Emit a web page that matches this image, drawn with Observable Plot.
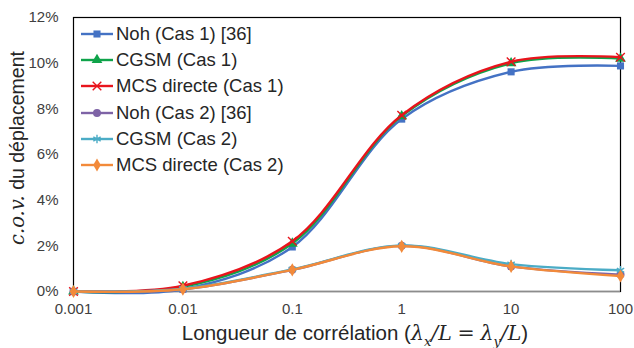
<!DOCTYPE html>
<html>
<head>
<meta charset="utf-8">
<script src="https://cdn.jsdelivr.net/npm/d3@7"></script>
<script src="https://cdn.jsdelivr.net/npm/@observablehq/plot@0.6"></script>
<style>
  html, body { margin: 0; padding: 0; background: #fff; }
  #wrap { position: relative; width: 634px; height: 348px; font-family: "Liberation Sans", Arial, sans-serif; }
  #legend { position: absolute; left: 80px; top: 20.5px; }
  .li { display: flex; align-items: center; height: 26.3px; font-size: 18.5px; color: #262626; white-space: nowrap; }
  .li svg { margin-right: 2px; }
  #ytitle { position: absolute; left: 17px; top: 148px; transform: translate(-50%, -50%) rotate(-90deg); font-size: 19.5px; color: #262626; white-space: nowrap; }
  #xtitle { position: absolute; left: 355px; top: 335px; transform: translate(-50%, -50%); font-size: 20.5px; color: #262626; white-space: nowrap; }
  .m { font-family: "DejaVu Serif", "Liberation Serif", serif; font-style: italic; }
  .mr { font-family: "DejaVu Serif", "Liberation Serif", serif; }
</style>
</head>
<body>
<div id="wrap"></div>
<script>
// Data (c.o.v. in %)
const lengths = [0.001, 0.01, 0.1, 1, 10, 100];
const nohCas1  = [0, 0.10, 1.95, 7.55, 9.62, 9.88];
const cgsmCas1 = [0, 0.20, 2.10, 7.68, 10.00, 10.20];
const mcsCas1  = [0, 0.25, 2.20, 7.72, 10.06, 10.26];
const nohCas2  = [0, 0.10, 0.95, 2.00, 1.10, 0.74];
const cgsmCas2 = [0, 0.12, 0.97, 2.02, 1.20, 0.93];
const mcsCas2  = [0, 0.10, 0.95, 1.98, 1.10, 0.68];
const xTicks = [0.001, 0.01, 0.1, 1, 10, 100];
const xTickLabels = ["0.001", "0.01", "0.1", "1", "10", "100"];
const yTicks = [0, 2, 4, 6, 8, 10, 12];

const seriesNames = ["Noh (Cas 1) [36]", "CGSM (Cas 1)", "MCS directe (Cas 1)", "Noh (Cas 2) [36]", "CGSM (Cas 2)", "MCS directe (Cas 2)"];
const seriesValues = [nohCas1, cgsmCas1, mcsCas1, nohCas2, cgsmCas2, mcsCas2];
const seriesColors = ["#4472C4", "#0FA34A", "#E8141C", "#7E63A6", "#4BACC6", "#F28A3A"];
const seriesSymbols = ["square", "triangle", "times", "circle", "asterisk", "diamond"];
const symbolFilled = [true, true, false, true, false, true];

const rows = [];
seriesNames.forEach((name, i) => {
  seriesValues[i].forEach((v, j) => rows.push({series: name, x: lengths[j], y: v, idx: i}));
});

const marks = [];
seriesNames.forEach((name, i) => {
  const d = rows.filter(r => r.idx === i);
  marks.push(Plot.line(d, {x: "x", y: "y", stroke: seriesColors[i], strokeWidth: 2.4, curve: "catmull-rom"}));
  marks.push(Plot.dot(d, {
    x: "x", y: "y", symbol: () => seriesSymbols[i], r: 4,
    fill: symbolFilled[i] ? seriesColors[i] : "none",
    stroke: symbolFilled[i] ? "none" : seriesColors[i], strokeWidth: 1.4
  }));
});

const chart = Plot.plot({
  width: 634, height: 348,
  marginLeft: 73, marginRight: 14, marginTop: 17, marginBottom: 57,
  style: {fontFamily: "Liberation Sans, Arial, sans-serif", fontSize: "15px", color: "#404040", background: "#fff", overflow: "visible"},
  x: {type: "log", domain: [0.001, 100]},
  y: {domain: [0, 12]},
  symbol: {type: "identity"},
  marks: [
    Plot.axisX({ticks: xTicks, tickFormat: (d) => xTickLabels[xTicks.indexOf(d)] ?? "", tickSize: 0, tickPadding: 12, label: null, fontSize: 15}),
    Plot.axisY({ticks: yTicks, tickFormat: d => d + "%", tickSize: 0, tickPadding: 15, label: null, fontSize: 15}),
    Plot.frame({stroke: "#000", strokeWidth: 1.2}),
    Plot.ruleY([0], {stroke: "#8c8c8c", strokeWidth: 1.5}),
    ...marks
  ]
});

const wrap = document.getElementById("wrap");
wrap.appendChild(chart);

// Legend
const legend = document.createElement("div");
legend.id = "legend";
const symMap = {square: d3.symbolSquare, triangle: d3.symbolTriangle, times: d3.symbolTimes, circle: d3.symbolCircle, asterisk: d3.symbolAsterisk, diamond: d3.symbolDiamond};
seriesNames.forEach((name, i) => {
  const item = document.createElement("div");
  item.className = "li";
  const svg = d3.create("svg").attr("width", 34).attr("height", 14);
  svg.append("line").attr("x1", 1).attr("x2", 33).attr("y1", 7).attr("y2", 7)
    .attr("stroke", seriesColors[i]).attr("stroke-width", 2.4);
  svg.append("path").attr("transform", "translate(17,7)")
    .attr("d", d3.symbol(symMap[seriesSymbols[i]], 50)())
    .attr("fill", symbolFilled[i] ? seriesColors[i] : "none")
    .attr("stroke", symbolFilled[i] ? "none" : seriesColors[i])
    .attr("stroke-width", 1.4);
  item.appendChild(svg.node());
  const t = document.createElement("span");
  t.textContent = name;
  item.appendChild(t);
  legend.appendChild(item);
});
wrap.appendChild(legend);

// Axis titles
const yt = document.createElement("div");
yt.id = "ytitle";
yt.innerHTML = '<span class="m">c.o.v.</span> du déplacement';
wrap.appendChild(yt);

const xt = document.createElement("div");
xt.id = "xtitle";
xt.innerHTML = 'Longueur de corrélation (<span class="m">λ<sub style="font-size:13px">x</sub>/L</span> <span class="mr">=</span> <span class="m">λ<sub style="font-size:13px">y</sub>/L</span>)';
wrap.appendChild(xt);
</script>
</body>
</html>
